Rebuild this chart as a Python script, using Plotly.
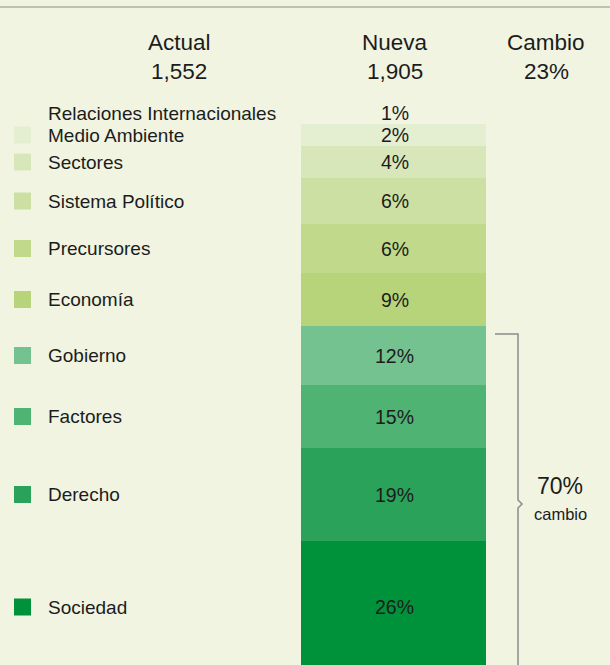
import plotly.graph_objects as go
import numpy as np

# ---- data ----
categorias = ["Relaciones Internacionales", "Medio Ambiente", "Sectores", "Sistema Político",
              "Precursores", "Economía", "Gobierno", "Factores", "Derecho", "Sociedad"]
porcentajes = ["1%", "2%", "4%", "6%", "6%", "9%", "12%", "15%", "19%", "26%"]
# apparent segment sizes of the stacked bar (as drawn in the picture)
alturas = [20, 22, 32, 46, 49, 53, 59, 63, 93, 132]
colores = ["#f0f4e1", "#e4eed0", "#d8e7b9", "#cde0a3", "#c0d98b",
           "#b7d47b", "#74c28f", "#4fb374", "#2aa25a", "#00923b"]
encabezados = ["Actual", "Nueva", "Cambio"]
valores_enc = ["1,552", "1,905", "23%"]
cambio_grupo = "70%"

BG = "#f0f4e1"
TXT = "#1c1c1c"
FONT = "Liberation Sans, Arial, sans-serif"

W, H = 610, 665
TOP = 104           # pixel where the stack begins
BAR_X = 393.5
BAR_W = 185

fig = go.Figure()

cum = np.concatenate([[0], np.cumsum(alturas)])
mids = (cum[:-1] + cum[1:]) / 2

for cat, h, c in zip(categorias, alturas, colores):
    fig.add_trace(go.Bar(x=[BAR_X], y=[h], width=BAR_W, marker=dict(color=c, line=dict(width=0)),
                         name=cat, showlegend=False, hoverinfo="skip"))

# percentage labels
for p, m in zip(porcentajes, mids):
    fig.add_annotation(x=BAR_X + 1, y=m - (1 if p == porcentajes[0] else 0), text=p,
                       xanchor="center", yanchor="middle", showarrow=False,
                       font=dict(family=FONT, size=19.5, color=TXT))

# legend squares (skip first, same as background)
fig.add_trace(go.Scatter(x=[22.5] * (len(categorias) - 1), y=mids[1:], mode="markers",
                         marker=dict(symbol="square", size=17, color=colores[1:], line=dict(width=0)),
                         showlegend=False, hoverinfo="skip"))

for cat, m in zip(categorias, mids):
    fig.add_annotation(x=46, y=m - (1 if cat == categorias[0] else 0), text=cat,
                       xanchor="left", yanchor="middle", showarrow=False,
                       font=dict(family=FONT, size=19, color=TXT))

# headers
for xc, t, v in zip([179, 395, 546], encabezados, valores_enc):
    fig.add_annotation(x=xc, y=42 - TOP, text=t, showarrow=False, xanchor="center", yanchor="middle",
                       font=dict(family=FONT, size=22.5, color=TXT))
    fig.add_annotation(x=xc, y=71 - TOP, text=v, showarrow=False, xanchor="center", yanchor="middle",
                       font=dict(family=FONT, size=22.5, color=TXT))

# 70% cambio
fig.add_annotation(x=560, y=486 - TOP, text=cambio_grupo, showarrow=False,
                   font=dict(family=FONT, size=23, color=TXT))
fig.add_annotation(x=560, y=514 - TOP, text="cambio", showarrow=False,
                   font=dict(family=FONT, size=16.5, color=TXT))

# top rule
fig.add_shape(type="line", xref="paper", yref="paper", x0=0, x1=1, y0=1 - 7 / H, y1=1 - 7 / H,
              line=dict(color="#bfc1b5", width=2))

# bracket for the lower group
g0 = cum[6]
br = "#8c8c8c"
fig.add_shape(type="path",
              path=f"M 495 {g0 + 8} L 518 {g0 + 8} L 518 {396} L 522 {400} L 518 {404} L 518 {H}",
              xref="x", yref="y", line=dict(color=br, width=1.5))

fig.update_layout(
    width=W, height=H, barmode="stack", bargap=0,
    paper_bgcolor=BG, plot_bgcolor=BG,
    margin=dict(l=0, r=0, t=0, b=0),
    xaxis=dict(range=[0, W], visible=False, fixedrange=True),
    yaxis=dict(range=[H - TOP, -TOP], visible=False, fixedrange=True),
)

fig.write_html("out.html", config={"displayModeBar": False},
               post_script="document.body.style.margin='0';document.body.style.background='#f0f4e1';")
